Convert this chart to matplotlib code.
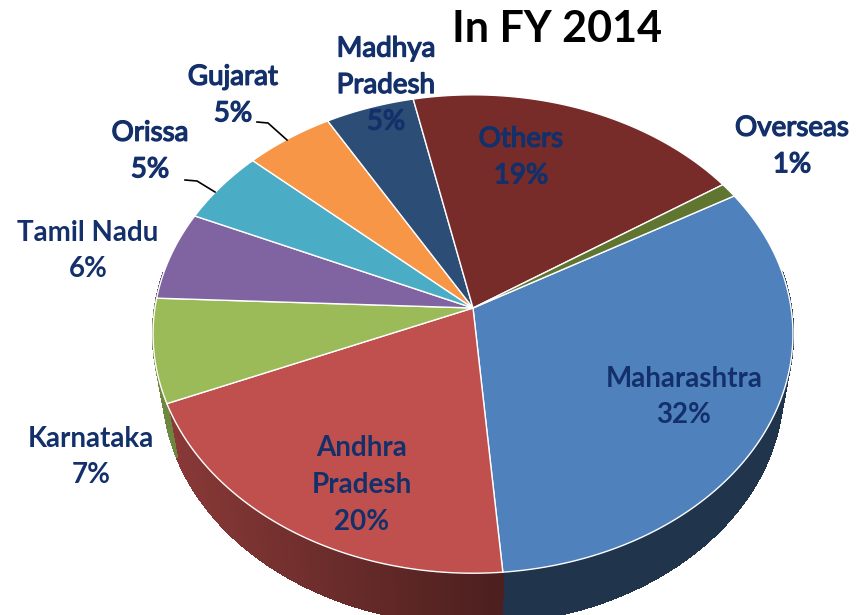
import numpy as np
import matplotlib
matplotlib.use('Agg')
import matplotlib.pyplot as plt
import matplotlib.patheffects as pe
from matplotlib.patches import Polygon
from matplotlib.collections import PolyCollection

# data
regions = ['Maharashtra', 'Andhra\nPradesh', 'Karnataka', 'Tamil Nadu', 'Orissa',
           'Gujarat', 'Madhya\nPradesh', 'Others', 'Overseas']
shares = [32, 20, 7, 6, 5, 5, 5, 19, 1]
colors = ['#4F81BD', '#C0504D', '#9BBB59', '#8064A2', '#4BACC6',
          '#F79646', '#2C4D75', '#772C2A', '#5F7530']
title = 'In FY 2014'

# label placement (pixel coords) and weights
label_pos = [(684, 397), (362, 485), (91, 457), (88, 251), (150, 151),
             (233, 95), (386, 85), (521, 157), (792, 146)]
label_bold = [True, True, True, True, False, False, False, False, False]

# perspective pie geometry (pixels)
cx, cy = 473, 308
F = 1956.0
D = 6.15
elev = np.radians(48)
s, c = np.sin(elev), np.cos(elev)
thick = 0.26
start = 30.0


def project(theta, h=0.0):
    X, Z = np.cos(theta), np.sin(theta)
    depth = D + Z * c + h * s
    up = Z * s - h * c
    return cx + F * X / depth, cy - F * up / depth


fig = plt.figure(figsize=(8.56, 6.15), dpi=100)
ax = fig.add_axes([0, 0, 1, 1])
ax.set_xlim(0, 856)
ax.set_ylim(615, 0)
ax.axis('off')

bounds = start - np.concatenate([[0], np.cumsum(shares)]) / sum(shares) * 360.0

### side wall
quads, qcols = [], []
for i, col in enumerate(colors):
    a0, a1 = bounds[i], bounds[i + 1]
    n = max(int(abs(a0 - a1)), 2) * 2
    t = np.radians(np.linspace(a0, a1, n))
    rgb = np.array(matplotlib.colors.to_rgb(col))
    for k in range(n - 1):
        if np.sin(t[k]) > 0.15 and np.sin(t[k + 1]) > 0.15:
            continue
        x1, y1 = project(t[k])
        x2, y2 = project(t[k + 1])
        x3, y3 = project(t[k + 1], thick)
        x4, y4 = project(t[k], thick)
        quads.append([(x1, y1), (x2, y2), (x3, y3), (x4, y4)])
        f = 0.72 - 0.32 * np.clip(((x1 + x2) / 2 - 160) / 330, 0, 1)
        qcols.append(tuple(rgb * f))
ax.add_collection(PolyCollection(quads, facecolors=qcols, edgecolors=qcols,
                                 linewidths=1.0, antialiaseds=False))

### top face
for i, col in enumerate(colors):
    t = np.radians(np.linspace(bounds[i], bounds[i + 1], 200))
    xs, ys = project(t)
    pts = [(cx, cy)] + list(zip(xs, ys))
    ax.add_patch(Polygon(pts, closed=True, facecolor=col, edgecolor='white', linewidth=1.0))

### labels
label_color = '#13306b'
for i, name in enumerate(regions):
    x, y = label_pos[i]
    txt = ax.text(x, y, name + '\n' + str(shares[i]) + '%', ha='center', va='center',
                  fontsize=20, family='Lato', fontweight='bold' if label_bold[i] else 'normal',
                  color=label_color, linespacing=1.5)
    if not label_bold[i]:
        # regular weight is too thin, thicken it a bit
        txt.set_path_effects([pe.withStroke(linewidth=1.0, foreground=label_color)])

# leader lines
ax.plot([257, 268, 287], [122, 123, 140], color='black', lw=1.2)
ax.plot([185, 197, 215], [180, 181, 192], color='black', lw=1.2)

ax.text(557, 29, title, ha='center', va='center', fontsize=31, family='Lato',
        fontweight='bold', color='black')

fig.savefig('out.png', dpi=100)
